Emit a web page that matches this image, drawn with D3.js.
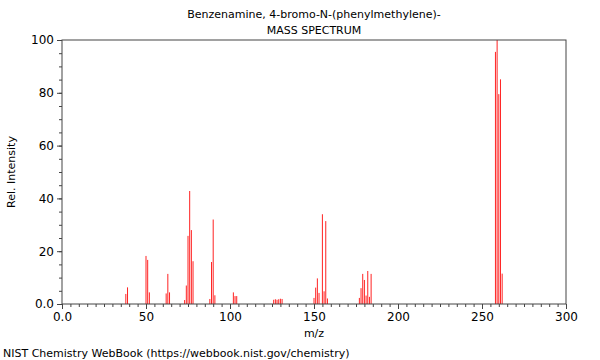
<!DOCTYPE html>
<html><head><meta charset="utf-8">
<script src="https://cdn.jsdelivr.net/npm/d3@7"></script>
<style>body{margin:0;background:#fff}svg{display:block}text{font-family:"DejaVu Sans",sans-serif;fill:#000}</style>
</head><body><svg id="c" width="600" height="360"></svg>
<script>
const mz = [38,39,50,51,52,62,63,64,73,74,75,76,77,78,88,89,90,91,102,103,104,126,127,128,129,130,131,150,151,152,153,155,156,157,158,177,178,179,180,181,182,183,184,258,259,260,261,262];
const intensity = [3.8,6.3,18.2,16.7,4.4,4.0,11.4,4.4,1.5,7.0,25.8,42.8,28.0,16.2,1.9,15.9,32.0,3.3,4.4,3.0,3.0,1.6,1.8,1.6,1.8,2.0,1.9,2.3,6.2,9.7,4.2,34.0,4.8,31.4,2.1,2.3,6.0,11.4,9.1,3.2,12.5,2.7,11.4,95.5,100,79.5,85.1,11.5];
const xTicks = [0,50,100,150,200,250,300];
const xTickLabels = ["0.0","50","100","150","200","250","300"];
const yTicks = [0,20,40,60,80,100];
const yTickLabels = ["0.0","20","40","60","80","100"];
const titleLines = ["Benzenamine, 4-bromo-N-(phenylmethylene)-","MASS SPECTRUM"];

const svg = d3.select("#c");
const L=62,R=566,T=40,B=304;
const x = d3.scaleLinear().domain([0,300]).range([L,R]);
const y = d3.scaleLinear().domain([0,100]).range([B,T]);
const data = mz.map((m,i)=>({m, v:intensity[i]}));

// bars
svg.append("g").selectAll("line").data(data).join("line")
  .attr("x1",d=>x(d.m)).attr("x2",d=>x(d.m))
  .attr("y1",y(0)).attr("y2",d=>y(d.v))
  .attr("stroke","#f22").attr("stroke-width",1);

// frame
svg.append("rect").attr("x",L).attr("y",T).attr("width",R-L).attr("height",B-T)
  .attr("fill","none").attr("stroke","#444").attr("stroke-width",1);

// x axis
const xa = svg.append("g").attr("transform",`translate(0,${B})`)
  .call(d3.axisBottom(x).tickValues(d3.range(0,301,5)).tickSize(3).tickFormat(""));
xa.select(".domain").remove();
xa.selectAll("line").attr("stroke","#444");
const xb = svg.append("g").attr("transform",`translate(0,${B})`)
  .call(d3.axisBottom(x).tickValues(xTicks).tickSize(5).tickPadding(3).tickFormat((d,i)=>xTickLabels[i]));
xb.select(".domain").remove();
xb.selectAll("line").attr("stroke","#444");
xb.selectAll("text").attr("font-size",12).style("font-family","DejaVu Sans");

// y axis
const ya = svg.append("g").attr("transform",`translate(${L},0)`)
  .call(d3.axisLeft(y).tickValues(d3.range(0,101,5)).tickSize(3).tickFormat(""));
ya.select(".domain").remove();
ya.selectAll("line").attr("stroke","#444");
const yb = svg.append("g").attr("transform",`translate(${L},0)`)
  .call(d3.axisLeft(y).tickValues(yTicks).tickSize(5).tickPadding(3).tickFormat((d,i)=>yTickLabels[i]));
yb.select(".domain").remove();
yb.selectAll("line").attr("stroke","#444");
yb.selectAll("text").attr("font-size",12).style("font-family","DejaVu Sans");

// titles
svg.selectAll("text.title").data(titleLines).join("text").attr("class","title")
  .attr("x",(L+R)/2).attr("y",(d,i)=>18+i*16).attr("text-anchor","middle").attr("font-size",11).text(d=>d);
svg.append("text").attr("x",(L+R)/2).attr("y",337).attr("text-anchor","middle").attr("font-size",11).text("m/z");
svg.append("text").attr("transform",`translate(15,${(T+B)/2}) rotate(-90)`).attr("text-anchor","middle").attr("font-size",11).text("Rel. Intensity");
svg.append("text").attr("x",3).attr("y",357).attr("font-size",11).text("NIST Chemistry WebBook (https://webbook.nist.gov/chemistry)");
</script></body></html>
